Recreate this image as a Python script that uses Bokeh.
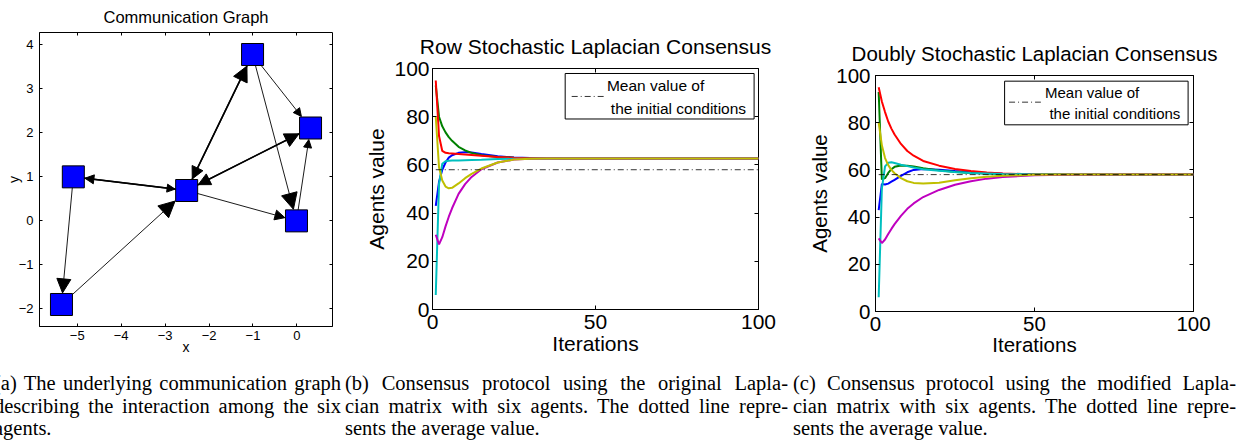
import math
from bokeh.plotting import figure
from bokeh.models import (Range1d, FixedTicker, LinearAxis, Arrow, NormalHead,
                          BoxAnnotation, Label, Div, CustomJSTickFormatter)
from bokeh.layouts import row, column
from bokeh.embed import file_html
from bokeh.resources import INLINE

SANS = "Liberation Sans"
SERIF = "Liberation Serif"

# ---------------- data: communication graph ----------------
node_x = [-1.01, 0.31, -0.01, -2.51, -5.09, -5.36]
node_y = [3.78, 2.11, 0.00, 0.69, 1.00, -1.90]
edge_from = [4, 5, 3, 4, 3, 0, 3, 1, 3, 0, 0, 2]
edge_to = [5, 3, 4, 3, 0, 3, 1, 3, 2, 1, 2, 1]
graph_xticks = [-5, -4, -3, -2, -1, 0]
graph_yticks = [-2, -1, 0, 1, 2, 3, 4]

# ---------------- data: consensus runs ----------------
iterations = [1, 2, 3, 4, 5, 6, 8, 10, 12, 15, 20, 25, 30, 35, 40, 50, 60, 80, 100]

row_blue = [43, 53, 58, 61, 63, 64, 65, 65.3, 65.1, 64.5, 63.6, 63.1, 62.9, 62.8, 62.75, 62.7, 62.7, 62.7, 62.7]
row_green = [93, 80, 76, 73.5, 71.5, 70, 67.5, 66, 65, 64, 63.3, 63.0, 62.8, 62.75, 62.7, 62.7, 62.7, 62.7, 62.7]
row_red = [95, 72, 65.8, 65.0, 64.8, 64.7, 64.5, 64.3, 64.1, 63.8, 63.3, 63.0, 62.8, 62.75, 62.7, 62.7, 62.7, 62.7, 62.7]
row_cyan = [6, 52, 60.5, 61.5, 61.7, 61.8, 61.8, 61.9, 62.0, 62.1, 62.4, 62.55, 62.6, 62.65, 62.7, 62.7, 62.7, 62.7, 62.7]
row_magenta = [31, 27, 30, 34.5, 38.5, 42, 48, 52, 55, 58.2, 61, 62.2, 62.6, 62.65, 62.7, 62.7, 62.7, 62.7, 62.7]
row_yellow = [80, 59, 53.5, 51, 50.3, 50.5, 52.3, 54.5, 56.3, 58.5, 61, 62.2, 62.6, 62.65, 62.7, 62.7, 62.7, 62.7, 62.7]

dbl_blue = [43, 54, 53.8, 54.2, 55, 55.8, 57.5, 59, 60, 60.4, 60.1, 59.5, 59, 58.7, 58.4, 58.1, 58.05, 58, 58]
dbl_green = [93, 56, 56.5, 58.7, 60.3, 61.3, 61.9, 61.8, 61.4, 60.7, 59.8, 59.1, 58.7, 58.5, 58.3, 58.1, 58.05, 58, 58]
dbl_red = [95, 89, 84.5, 80.5, 77.5, 75, 71, 68, 66, 63.8, 61.8, 60.4, 59.5, 58.9, 58.5, 58.1, 58.05, 58, 58]
dbl_cyan = [6, 52, 61.5, 63, 63.2, 62.9, 62.2, 61.6, 61, 60.3, 59.6, 59.1, 58.7, 58.5, 58.3, 58.1, 58.05, 58, 58]
dbl_magenta = [31, 29, 30.5, 32.8, 35, 37, 40.5, 43.5, 45.8, 48.5, 51.5, 53.7, 55.2, 56.3, 57, 57.7, 57.9, 58, 58]
dbl_yellow = [80, 70.5, 65, 62, 60, 58.6, 56.5, 55.2, 54.5, 54.2, 54.6, 55.6, 56.5, 57.1, 57.5, 57.9, 58, 58, 58]

mean_initial = 58.0
mean_span = [1, 100]
cons_xticks = [0, 50, 100]
cons_yticks = [0, 20, 40, 60, 80, 100]
legend_lines = ["Mean value of", "the initial conditions"]
titles = ["Communication Graph", "Row Stochastic Laplacian Consensus",
          "Doubly Stochastic Laplacian Consensus"]

captions = {
    "a": ["(a) The underlying communication graph",
          "describing the interaction among the six",
          "agents."],
    "b": ["(b) Consensus protocol using the original Lapla-",
          "cian matrix with six agents. The dotted line repre-",
          "sents the average value."],
    "c": ["(c) Consensus protocol using the modified Lapla-",
          "cian matrix with six agents. The dotted line repre-",
          "sents the average value."],
}

# ---------------- styles ----------------
agent_colors = ["#0000ff", "#008000", "#ff0000", "#00bfbf", "#bf00bf", "#bfbf00"]
head_sizes = [14, 16, 9, 8, 15, 12, 14, 12, 10, 8, 16, 8]


def minus(v):
    return ("\u2212" + str(abs(v))) if v < 0 else str(v)


def style_axes(p, xt, yt, tick_len, font, lab_font, x_std, y_std, xl_std, yl_std):
    p.xgrid.visible = False
    p.ygrid.visible = False
    p.outline_line_color = "black"
    p.outline_line_width = 1
    p.outline_line_alpha = 1
    p.background_fill_color = "white"
    p.border_fill_color = "white"
    p.xaxis.ticker = FixedTicker(ticks=xt)
    p.yaxis.ticker = FixedTicker(ticks=yt)
    p.xaxis.major_label_overrides = {v: minus(v) for v in xt}
    p.yaxis.major_label_overrides = {v: minus(v) for v in yt}
    for ax in (p.xaxis[0], p.yaxis[0]):
        ax.major_tick_in = tick_len
        ax.major_tick_out = 0
        ax.minor_tick_in = 0
        ax.minor_tick_out = 0
        ax.axis_line_color = "black"
        ax.major_tick_line_color = "black"
        ax.major_label_text_font = SANS
        ax.major_label_text_font_size = font
        ax.major_label_text_color = "black"
        ax.axis_label_text_font = SANS
        ax.axis_label_text_font_size = lab_font
        ax.axis_label_text_font_style = "normal"
        ax.axis_label_text_color = "black"
    p.xaxis.major_label_standoff = x_std
    p.yaxis.major_label_standoff = y_std
    p.xaxis.axis_label_standoff = xl_std
    p.yaxis.axis_label_standoff = yl_std
    blank = CustomJSTickFormatter(code="return ''")
    top = LinearAxis(ticker=FixedTicker(ticks=xt), formatter=blank,
                     major_label_text_font_size="0px", major_label_standoff=0,
                     major_tick_in=tick_len, major_tick_out=0,
                     minor_tick_in=0, minor_tick_out=0, axis_line_color=None)
    right = LinearAxis(ticker=FixedTicker(ticks=yt), formatter=blank,
                       major_label_text_font_size="0px", major_label_standoff=0,
                       major_tick_in=tick_len, major_tick_out=0,
                       minor_tick_in=0, minor_tick_out=0, axis_line_color=None)
    p.add_layout(top, "above")
    p.add_layout(right, "right")


def style_title(p, size, standoff):
    p.title.text_font = SANS
    p.title.text_font_size = size
    p.title.text_font_style = "normal"
    p.title.align = "center"
    p.title.vertical_align = "top"
    p.title.text_color = "black"
    p.title.standoff = standoff


# ---------------- panel (a) ----------------
fa = figure(frame_width=293, frame_height=294, min_border_left=39, min_border_right=28,
            min_border_top=32, min_border_bottom=34,
            x_range=Range1d(-5.86, 0.81), y_range=Range1d(-2.40, 4.28),
            title=titles[0], x_axis_label="x", y_axis_label="y",
            output_backend="svg", toolbar_location=None)
style_axes(fa, graph_xticks, graph_yticks, 3, "13px", "14px", 4, 6, -4, -6)
style_title(fa, "16.5px", 10)

pairs = set(zip(edge_from, edge_to))
for s, t, hs in zip(edge_from, edge_to, head_sizes):
    x0, y0, x1, y1 = node_x[s], node_y[s], node_x[t], node_y[t]
    dx, dy = x1 - x0, y1 - y0
    L = math.hypot(dx, dy)
    ux, uy = dx / L, dy / L
    k = (11.6 / 44.0) / max(abs(ux), abs(uy))
    lw = 1.5 if (t, s) in pairs else 0.9
    fa.add_layout(Arrow(end=NormalHead(size=hs, fill_color="black", line_color="black", line_width=1),
                        x_start=x0, y_start=y0, x_end=x1 - ux * k, y_end=y1 - uy * k,
                        line_color="black", line_width=lw))
sq = fa.scatter(node_x, node_y, marker="square", size=22, fill_color="#0000ff",
                line_color="black", line_width=1)
sq.level = "overlay"


# ---------------- consensus panels ----------------
def consensus(series, title, fw, fh, bl, br, bt, bb, tfont, lfont, tstd, xstd, ystd, xlstd, ylstd, leg):
    p = figure(frame_width=fw, frame_height=fh, min_border_left=bl, min_border_right=br,
               min_border_top=bt, min_border_bottom=bb,
               x_range=Range1d(0, 100), y_range=Range1d(0, 100),
               title=title, x_axis_label="Iterations", y_axis_label="Agents value",
               output_backend="svg", toolbar_location=None)
    style_axes(p, cons_xticks, cons_yticks, 4, tfont, tfont, xstd, ystd, xlstd, ylstd)
    style_title(p, tfont, tstd)
    for vals, col in zip(series, agent_colors):
        p.line(iterations, vals, line_color=col, line_width=2)
    p.line(mean_span, [mean_initial] * len(mean_span), line_color="black",
           line_width=0.8, line_dash="6 3 1 3")
    bx0, bx1, by0, by1, sx0, sx1, sy, tx0, ty0, tx1, ty1 = leg
    p.add_layout(BoxAnnotation(left=bx0, right=bx1, bottom=by0, top=by1, fill_color="white",
                               fill_alpha=1, line_color="black", line_width=1, line_alpha=1))
    p.add_layout(Arrow(end=None, x_start=sx0, y_start=sy, x_end=sx1, y_end=sy,
                       line_color="black", line_width=0.8, line_dash="6 3 1 3"))
    p.add_layout(Label(x=tx0, y=ty0, text=legend_lines[0], text_font=SANS, text_font_size=lfont,
                       text_baseline="middle", text_align="left", text_color="black"))
    p.add_layout(Label(x=tx1, y=ty1, text=legend_lines[1], text_font=SANS, text_font_size=lfont,
                       text_baseline="middle", text_align="left", text_color="black"))
    return p


fb = consensus([row_blue, row_green, row_red, row_cyan, row_magenta, row_yellow],
               titles[1], 326, 241, 72, 42, 68, 51,
               "21px", "15.5px", 18, 5, 3, 0, 3,
               (40.7, 98.65, 79.05, 97.93, 42.7, 52.5, 88.4, 53.5, 93.1, 54.7, 83.4))
fc = consensus([dbl_blue, dbl_green, dbl_red, dbl_cyan, dbl_magenta, dbl_yellow],
               titles[2], 318, 236, 75, 51, 75, 49,
               "20.5px", "15px", 17, 5, 5, -1, 2,
               (40.6, 98.3, 79.1, 97.6, 42.0, 52.0, 88.7, 53.3, 92.9, 54.7, 83.7))

# ---------------- captions ----------------
cap_boxes = {"a": (-6, 347), "b": (345, 443), "c": (793, 443)}


def cap_block(key):
    left, width = cap_boxes[key]
    lines = captions[key]
    inner = ""
    for i, ln in enumerate(lines):
        al = "left" if i == len(lines) - 1 else "justify"
        inner += ('<div style="text-align:%s;text-align-last:%s;white-space:nowrap;">%s</div>'
                  % (al, al, ln))
    return ('<div style="position:absolute;left:%dpx;top:12px;width:%dpx;">%s</div>'
            % (left, width, inner))


html = ('<div style="position:relative;width:1244px;height:86px;overflow:hidden;'
        'font-family:\'%s\';font-size:20.5px;line-height:22.5px;color:#000;">%s</div>'
        % (SERIF, "".join(cap_block(k) for k in ("a", "b", "c"))))
cap = Div(text=html, width=1244, height=86, margin=(0, 0, 0, 0))

layout = column(row(column(fa), column(fb), column(fc)), cap)
open("out.html", "w").write(file_html(layout, INLINE))
